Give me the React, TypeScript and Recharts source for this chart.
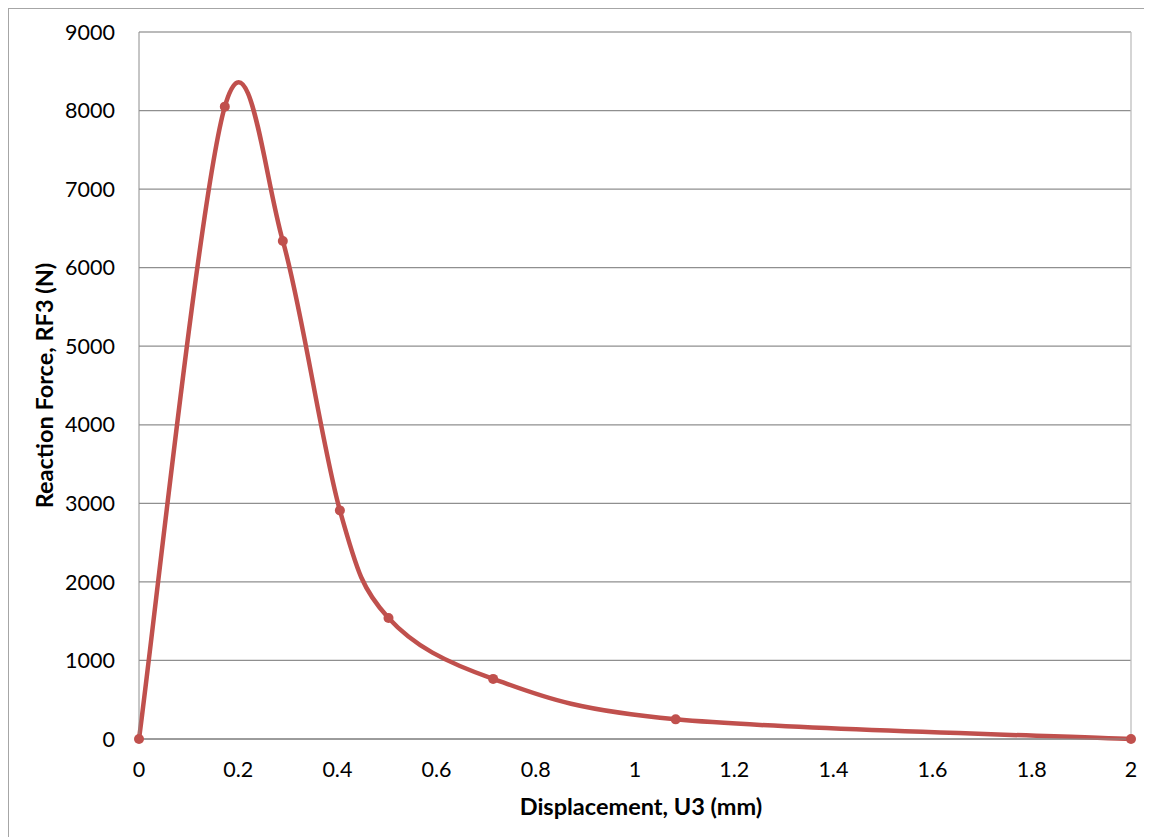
import React from 'react';
import { LineChart, Line, XAxis, YAxis, CartesianGrid, ReferenceLine, Label } from 'recharts';

// displacement U3 (mm) and reaction force RF3 (N)
const displacement = [0, 0.173, 0.29, 0.405, 0.503, 0.714, 1.082, 2.0];
const reactionForce = [0, 8050, 6340, 2910, 1540, 765, 250, 0];
const xTicks = [0, 0.2, 0.4, 0.6, 0.8, 1, 1.2, 1.4, 1.6, 1.8, 2];
const yTicks = [0, 1000, 2000, 3000, 4000, 5000, 6000, 7000, 8000, 9000];

const data = displacement.map((x, i) => ({ x, rf: reactionForce[i] }));

const FONT = 'Lato, "Open Sans", sans-serif';
const RED = '#C0504D';

// Excel-style smoothed line: Catmull-Rom segments as cubic beziers
const excelSmooth = (context: any) => {
    let pts: number[][] = [];
    return {
        areaStart() {},
        areaEnd() {},
        lineStart() { pts = []; },
        point(x: number, y: number) { pts.push([+x, +y]); },
        lineEnd() {
            if (!pts.length) return;
            context.moveTo(pts[0][0], pts[0][1]);
            for (let i = 0; i < pts.length - 1; i++) {
                const p0 = pts[i - 1] || pts[i];
                const p1 = pts[i];
                const p2 = pts[i + 1];
                const p3 = pts[i + 2] || p2;
                context.bezierCurveTo(
                    p1[0] + (p2[0] - p0[0]) / 6, p1[1] + (p2[1] - p0[1]) / 6,
                    p2[0] - (p3[0] - p1[0]) / 6, p2[1] - (p3[1] - p1[1]) / 6,
                    p2[0], p2[1]
                );
            }
        },
    };
};

const App: React.FC = () => {
    return (
        <div style={{ width: 1143, height: 828, borderLeft: '1px solid #a6a6a6', borderTop: '1px solid #a6a6a6', background: '#fff' }}>
            <LineChart width={1143} height={828} data={data} margin={{ top: 23, right: 21, bottom: 0, left: 0 }}>
                <CartesianGrid vertical={false} stroke="#8f8f8f" strokeWidth={1.3} />
                <XAxis
                    dataKey="x"
                    type="number"
                    domain={[0, 2]}
                    ticks={xTicks}
                    interval={0}
                    tickLine={false}
                    tickSize={0}
                    tickMargin={23}
                    height={98}
                    stroke="#8c8c8c"
                    tick={{ fill: '#000', fontSize: 21.5, fontFamily: FONT }}
                >
                    <Label
                        value="Displacement, U3 (mm)"
                        position="insideTop"
                        offset={59}
                        dx={6}
                        style={{ fill: '#000', fontSize: 23.5, fontWeight: 'bold', fontFamily: FONT }}
                    />
                </XAxis>
                <YAxis
                    type="number"
                    domain={[0, 9000]}
                    ticks={yTicks}
                    interval={0}
                    tickLine={false}
                    tickSize={0}
                    tickMargin={24}
                    width={130}
                    stroke="#8c8c8c"
                    tick={{ fill: '#000', fontSize: 21.5, fontFamily: FONT }}
                >
                    <Label
                        value="Reaction Force, RF3 (N)"
                        angle={-90}
                        position="insideLeft"
                        offset={36}
                        style={{ textAnchor: 'middle', fill: '#000', fontSize: 23.5, fontWeight: 'bold', fontFamily: FONT }}
                    />
                </YAxis>
                <ReferenceLine x={2} stroke="#bfbfbf" strokeWidth={1.3} />
                <ReferenceLine y={9000} stroke="#bfbfbf" strokeWidth={1.3} />
                <Line
                    dataKey="rf"
                    type={excelSmooth as any}
                    stroke={RED}
                    strokeWidth={4.5}
                    dot={{ r: 5, fill: RED, stroke: RED, strokeWidth: 0 }}
                    activeDot={false}
                    isAnimationActive={false}
                />
            </LineChart>
        </div>
    );
};

export default App;
